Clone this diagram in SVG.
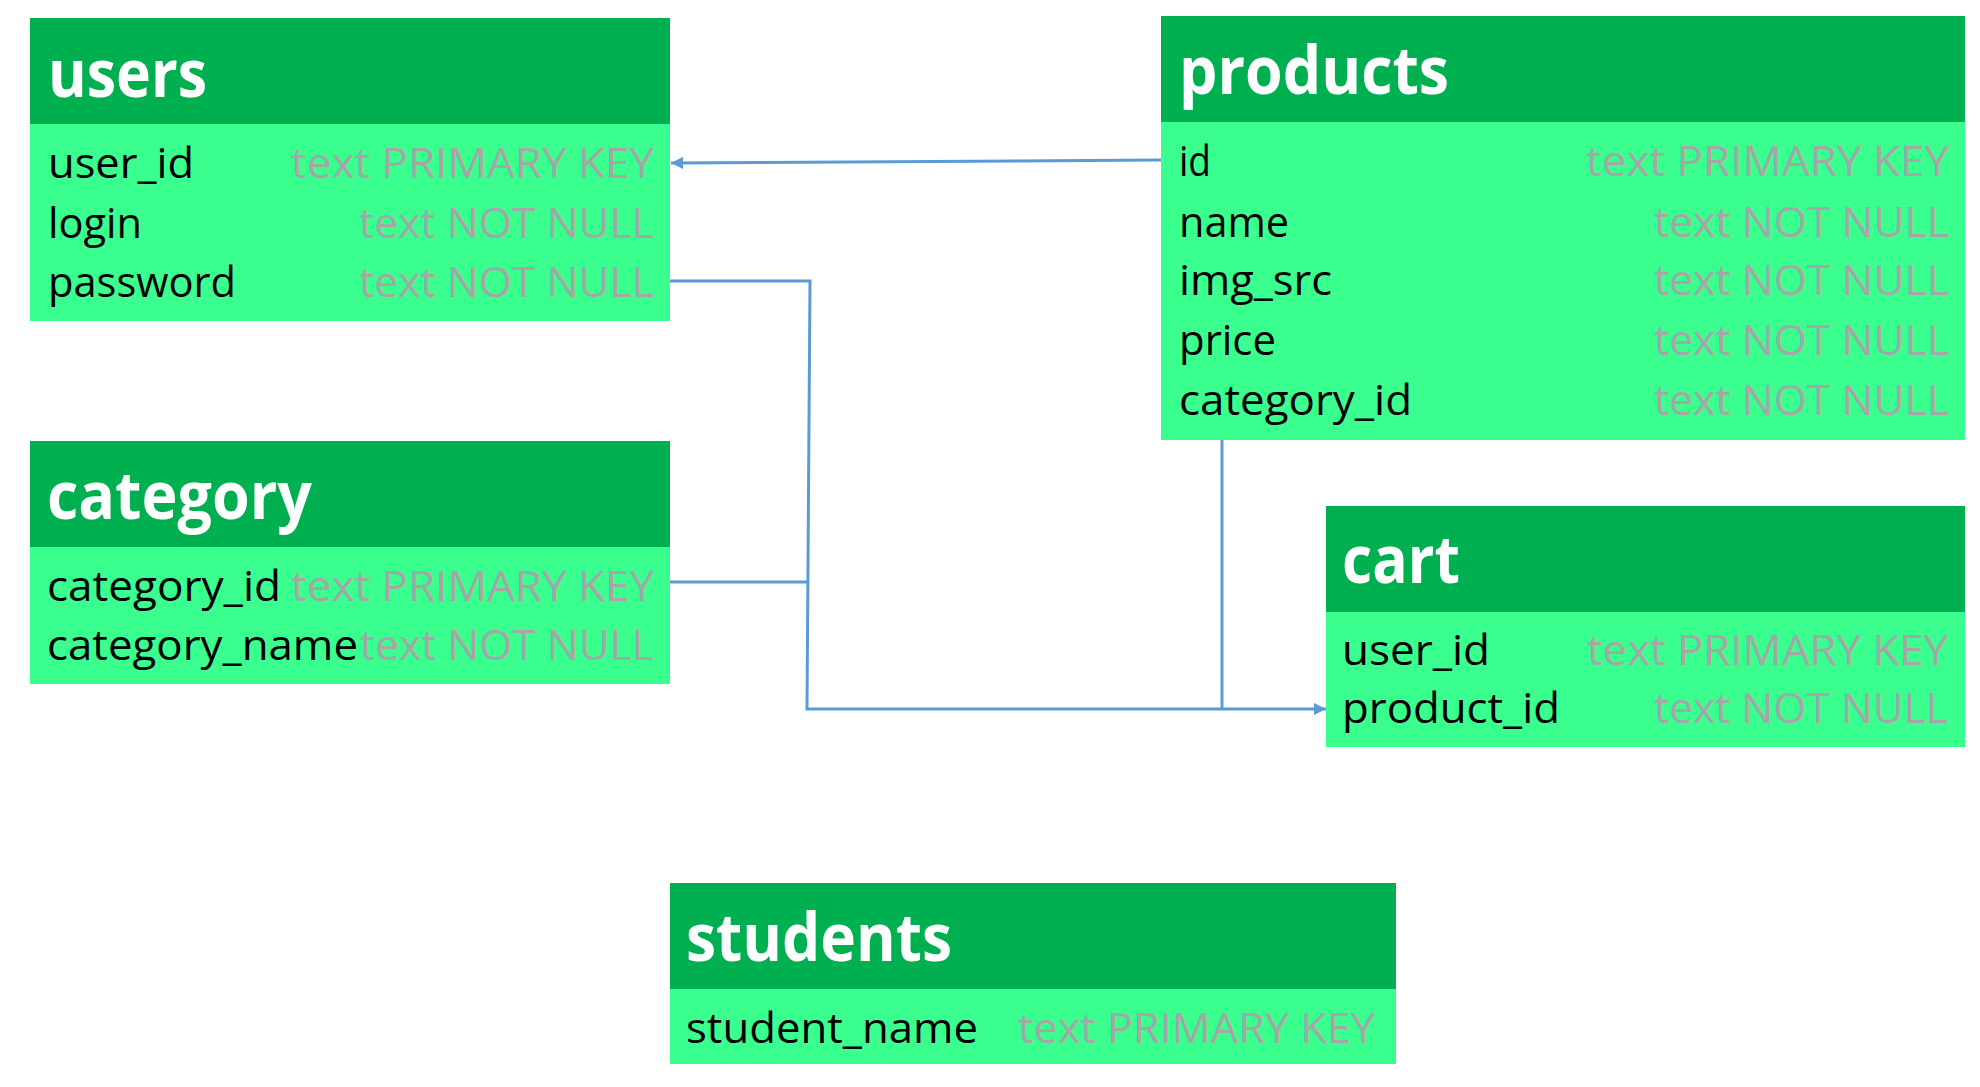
<svg xmlns="http://www.w3.org/2000/svg" width="1980" height="1087" viewBox="0 0 1980 1087">
<style>
.hd{fill:#00B050}
.bd{fill:#3AFF8F}
.tt{font-family:"Open Sans","Liberation Sans",sans-serif;font-weight:bold;font-size:66px;fill:#FFFFFF}
.fn{font-family:"Open Sans","Liberation Sans",sans-serif;font-size:42px;fill:#000000}
.ty{font-family:"Open Sans","Liberation Sans",sans-serif;font-size:42px;fill:#A6A6A6}
.cn{fill:none;stroke:#5B9BD5;stroke-width:3}
</style>
<defs>
<marker id="arr" viewBox="0 0 12 12" refX="12" refY="6" markerWidth="12" markerHeight="12" markerUnits="userSpaceOnUse" orient="auto">
<path d="M0,0 L12,6 L0,12 Z" fill="#5B9BD5"/>
</marker>
</defs>
<rect width="1980" height="1087" fill="#FFFFFF"/>

<g id="users">
<rect class="hd" x="30" y="18" width="640" height="106"/>
<rect class="bd" x="30" y="124" width="640" height="197"/>
<text class="tt" x="48" y="97" textLength="159" lengthAdjust="spacingAndGlyphs">users</text>
<text class="fn" x="48" y="178" textLength="146" lengthAdjust="spacingAndGlyphs">user_id</text>
<text class="fn" x="48" y="238" textLength="94" lengthAdjust="spacingAndGlyphs">login</text>
<text class="fn" x="48" y="297" textLength="188" lengthAdjust="spacingAndGlyphs">password</text>
<text class="ty" x="291" y="178" textLength="363" lengthAdjust="spacingAndGlyphs">text PRIMARY KEY</text>
<text class="ty" x="359" y="238" textLength="295" lengthAdjust="spacingAndGlyphs">text NOT NULL</text>
<text class="ty" x="359" y="297" textLength="295" lengthAdjust="spacingAndGlyphs">text NOT NULL</text>
</g>

<g id="products">
<rect class="hd" x="1161" y="16" width="804" height="106"/>
<rect class="bd" x="1161" y="122" width="804" height="318"/>
<text class="tt" x="1179" y="94" textLength="270" lengthAdjust="spacingAndGlyphs">products</text>
<text class="fn" x="1179" y="176" textLength="32" lengthAdjust="spacingAndGlyphs">id</text>
<text class="fn" x="1179" y="237" textLength="110" lengthAdjust="spacingAndGlyphs">name</text>
<text class="fn" x="1179" y="295" textLength="153" lengthAdjust="spacingAndGlyphs">img_src</text>
<text class="fn" x="1179" y="355" textLength="97" lengthAdjust="spacingAndGlyphs">price</text>
<text class="fn" x="1179" y="415" textLength="233" lengthAdjust="spacingAndGlyphs">category_id</text>
<text class="ty" x="1586" y="176" textLength="363" lengthAdjust="spacingAndGlyphs">text PRIMARY KEY</text>
<text class="ty" x="1654" y="237" textLength="295" lengthAdjust="spacingAndGlyphs">text NOT NULL</text>
<text class="ty" x="1654" y="295" textLength="295" lengthAdjust="spacingAndGlyphs">text NOT NULL</text>
<text class="ty" x="1654" y="355" textLength="295" lengthAdjust="spacingAndGlyphs">text NOT NULL</text>
<text class="ty" x="1654" y="415" textLength="295" lengthAdjust="spacingAndGlyphs">text NOT NULL</text>
</g>

<g id="category">
<rect class="hd" x="30" y="441" width="640" height="106"/>
<rect class="bd" x="30" y="547" width="640" height="137"/>
<text class="tt" x="47" y="519" textLength="265" lengthAdjust="spacingAndGlyphs">category</text>
<text class="fn" x="47" y="601" textLength="234" lengthAdjust="spacingAndGlyphs">category_id</text>
<text class="fn" x="47" y="660" textLength="311" lengthAdjust="spacingAndGlyphs">category_name</text>
<text class="ty" x="291" y="601" textLength="363" lengthAdjust="spacingAndGlyphs">text PRIMARY KEY</text>
<text class="ty" x="360" y="660" textLength="294" lengthAdjust="spacingAndGlyphs">text NOT NULL</text>
</g>

<g id="cart">
<rect class="hd" x="1326" y="506" width="639" height="106"/>
<rect class="bd" x="1326" y="612" width="639" height="135"/>
<text class="tt" x="1342" y="583" textLength="118" lengthAdjust="spacingAndGlyphs">cart</text>
<text class="fn" x="1342" y="665" textLength="148" lengthAdjust="spacingAndGlyphs">user_id</text>
<text class="fn" x="1342" y="723" textLength="218" lengthAdjust="spacingAndGlyphs">product_id</text>
<text class="ty" x="1587" y="665" textLength="361" lengthAdjust="spacingAndGlyphs">text PRIMARY KEY</text>
<text class="ty" x="1654" y="723" textLength="294" lengthAdjust="spacingAndGlyphs">text NOT NULL</text>
</g>

<g id="students">
<rect class="hd" x="670" y="883" width="726" height="106"/>
<rect class="bd" x="670" y="989" width="726" height="75"/>
<text class="tt" x="686" y="961" textLength="266" lengthAdjust="spacingAndGlyphs">students</text>
<text class="fn" x="686" y="1043" textLength="292" lengthAdjust="spacingAndGlyphs">student_name</text>
<text class="ty" x="1018" y="1043" textLength="357" lengthAdjust="spacingAndGlyphs">text PRIMARY KEY</text>
</g>

<g id="connectors">
<path class="cn" d="M1161,160 L671,163" marker-end="url(#arr)"/>
<path class="cn" d="M670,281 L810,281 L807,709 L1326,709" marker-end="url(#arr)"/>
<path class="cn" d="M670,582 L808,582"/>
<path class="cn" d="M1222,440 L1222,709"/>
</g>
</svg>
